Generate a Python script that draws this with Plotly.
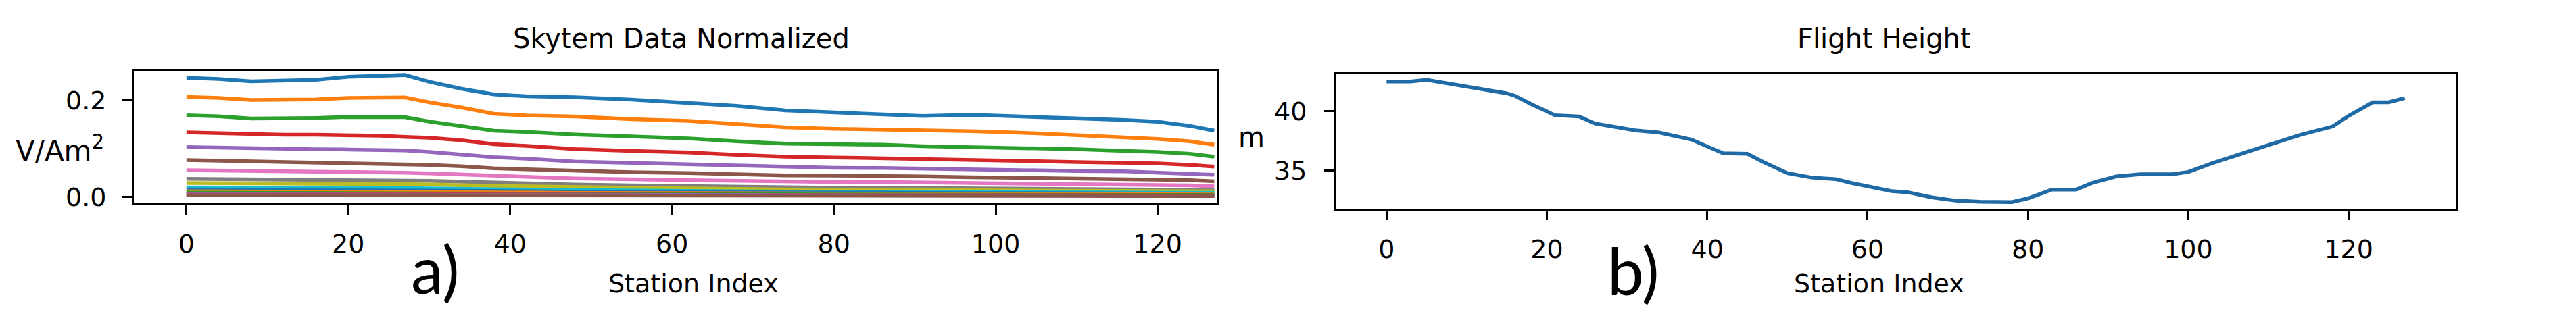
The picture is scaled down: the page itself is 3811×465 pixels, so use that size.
import plotly.graph_objects as go

W, H = 3811, 465

# ---- Skytem normalized data (V/Am^2) ----
st_top = [0, 4, 8, 12, 16, 20, 24, 27, 30, 34, 38, 42, 48, 55, 62, 68, 74, 80, 86, 91, 97, 103, 110, 116, 120, 124, 127]

gate_01 = [0.2466, 0.2443, 0.2395, 0.2405, 0.2425, 0.2488, 0.2515, 0.2525, 0.2385, 0.2240, 0.2125, 0.2085, 0.2063, 0.2015,
           0.1945, 0.1885, 0.1790, 0.1745, 0.1715, 0.1675, 0.1700, 0.1670, 0.1620, 0.1590, 0.1557, 0.1470, 0.1370]
gate_02 = [0.2070, 0.2050, 0.2010, 0.2012, 0.2020, 0.2050, 0.2065, 0.2060, 0.1960, 0.1850, 0.1720, 0.1685, 0.1665, 0.1610,
           0.1575, 0.1505, 0.1440, 0.1410, 0.1395, 0.1370, 0.1360, 0.1330, 0.1280, 0.1230, 0.1200, 0.1150, 0.1080]
gate_03 = [0.1690, 0.1670, 0.1623, 0.1625, 0.1635, 0.1655, 0.1655, 0.1650, 0.1560, 0.1470, 0.1370, 0.1345, 0.1290, 0.1250,
           0.1210, 0.1150, 0.1100, 0.1090, 0.1080, 0.1050, 0.1035, 0.1015, 0.0985, 0.0950, 0.0930, 0.0890, 0.0830]
gate_04 = [0.1335, 0.1315, 0.1295, 0.1288, 0.1285, 0.1282, 0.1265, 0.1240, 0.1225, 0.1170, 0.1090, 0.1055, 0.0990, 0.0950,
           0.0920, 0.0870, 0.0830, 0.0815, 0.0800, 0.0775, 0.0760, 0.0745, 0.0720, 0.0710, 0.0690, 0.0660, 0.0625]
gate_05 = [0.1030, 0.1015, 0.1000, 0.0990, 0.0986, 0.0980, 0.0972, 0.0960, 0.0930, 0.0880, 0.0820, 0.0790, 0.0730, 0.0700,
           0.0670, 0.0640, 0.0615, 0.0600, 0.0595, 0.0580, 0.0565, 0.0550, 0.0535, 0.0525, 0.0505, 0.0485, 0.0455]
gate_06 = [0.0760, 0.0748, 0.0735, 0.0725, 0.0715, 0.0705, 0.0695, 0.0680, 0.0660, 0.0630, 0.0590, 0.0570, 0.0540, 0.0510,
           0.0490, 0.0465, 0.0442, 0.0440, 0.0438, 0.0420, 0.0405, 0.0395, 0.0385, 0.0375, 0.0360, 0.0345, 0.0320]
gate_07 = [0.0550, 0.0545, 0.0538, 0.0532, 0.0525, 0.0518, 0.0510, 0.0500, 0.0485, 0.0460, 0.0430, 0.0410, 0.0378, 0.0360,
           0.0345, 0.0325, 0.0306, 0.0305, 0.0305, 0.0295, 0.0285, 0.0278, 0.0270, 0.0260, 0.0250, 0.0235, 0.0215]
gate_08 = [0.0372, 0.0368, 0.0364, 0.0360, 0.0356, 0.0352, 0.0346, 0.0340, 0.0330, 0.0312, 0.0290, 0.0275, 0.0252, 0.0235,
           0.0222, 0.0205, 0.0190, 0.0188, 0.0187, 0.0182, 0.0177, 0.0172, 0.0168, 0.0163, 0.0158, 0.0150, 0.0140]

# late gates, packed near zero
st_low = [0, 16, 27, 38, 48, 62, 74, 97, 116, 127]
gate_09 = [0.0283, 0.0272, 0.0262, 0.0225, 0.0195, 0.0172, 0.0150, 0.0140, 0.0128, 0.0112]
gate_10 = [0.0195, 0.0188, 0.0181, 0.0156, 0.0135, 0.0120, 0.0105, 0.0098, 0.0090, 0.0080]
gate_11 = [0.0150, 0.0145, 0.0139, 0.0120, 0.0104, 0.0092, 0.0081, 0.0075, 0.0069, 0.0062]
gate_12 = [0.0112, 0.0108, 0.0104, 0.0090, 0.0078, 0.0069, 0.0061, 0.0057, 0.0052, 0.0047]
gate_13 = [0.0085, 0.0082, 0.0079, 0.0068, 0.0059, 0.0052, 0.0046, 0.0043, 0.0039, 0.0035]
gate_14 = [0.0064, 0.0062, 0.0059, 0.0051, 0.0044, 0.0039, 0.0035, 0.0032, 0.0029, 0.0026]
gate_15 = [0.0048, 0.0046, 0.0044, 0.0038, 0.0033, 0.0029, 0.0026, 0.0024, 0.0022, 0.0020]
gate_16 = [0.0034, 0.0033, 0.0032, 0.0027, 0.0024, 0.0021, 0.0019, 0.0017, 0.0016, 0.0014]

# ---- flight height (m) ----
st_fh = [0, 3, 5, 8, 11, 13, 15, 16, 18, 21, 23, 24, 26, 29, 31, 34, 36, 38, 42, 45, 47, 50, 53, 56, 58, 61, 63, 65,
         68, 71, 74, 78, 80, 83, 86, 88, 91, 94, 98, 100, 103, 108, 114, 118, 120, 123, 125, 127]
height = [42.5, 42.5, 42.63, 42.3, 41.98, 41.7, 41.5, 41.3, 40.6, 39.65, 39.6, 39.55, 38.95, 38.56, 38.37, 38.19, 37.9,
          37.6, 36.43, 36.39, 35.7, 34.76, 34.39, 34.26, 33.93, 33.47, 33.24, 33.15, 32.72, 32.44, 32.35, 32.32, 32.63,
          33.37, 33.37, 33.93, 34.48, 34.67, 34.67, 34.86, 35.6, 36.7, 38.0, 38.7, 39.6, 40.74, 40.74, 41.1]

x_ticks = [0, 20, 40, 60, 80, 100, 120]

tab10 = ["#1f77b4", "#ff7f0e", "#2ca02c", "#d62728", "#9467bd",
         "#8c564b", "#e377c2", "#7f7f7f", "#bcbd22", "#17becf"]

gates = [(st_top, g) for g in (gate_01, gate_02, gate_03, gate_04, gate_05, gate_06, gate_07, gate_08)]
gates += [(st_low, g) for g in (gate_09, gate_10, gate_11, gate_12, gate_13, gate_14, gate_15, gate_16)]

fig = go.Figure()
for i, (xs, ys) in enumerate(gates):
    fig.add_trace(go.Scatter(x=xs, y=ys, mode="lines", xaxis="x", yaxis="y",
                             line=dict(color=tab10[i % 10], width=5.5), showlegend=False))

fig.add_trace(go.Scatter(x=st_fh, y=height, mode="lines", xaxis="x2", yaxis="y2",
                         line=dict(color="#1f6aa5", width=5.5), showlegend=False))

FONT = "DejaVu Sans"


def px_x(p):
    return p / W


def px_y(p):
    return 1 - p / H


axis_common = dict(
    showline=True, linecolor="black", linewidth=3, mirror=True,
    ticks="outside", ticklen=14, tickwidth=3, tickcolor="black",
    showgrid=False, zeroline=False,
    tickfont=dict(family=FONT, size=38, color="black"),
)

fig.update_layout(
    width=W, height=H,
    margin=dict(l=0, r=0, t=0, b=0),
    paper_bgcolor="white", plot_bgcolor="white",
    xaxis=dict(domain=[px_x(190), px_x(1792)], range=[-6.5, 127.3], tickvals=x_ticks,
               anchor="y", ticklabelstandoff=10, **axis_common),
    yaxis=dict(domain=[px_y(300.7), px_y(100)], range=[-0.0135, 0.2605], tickvals=[0.0, 0.2],
               ticktext=["0.0", "0.2"], anchor="x", ticklabelstandoff=16, **axis_common),
    xaxis2=dict(domain=[px_x(1968), px_x(3625)], range=[-6.35, 133.35], tickvals=x_ticks,
                anchor="y2", ticklabelstandoff=10, **axis_common),
    yaxis2=dict(domain=[px_y(309), px_y(105)], range=[31.76, 43.09], tickvals=[35, 40],
                anchor="x2", ticklabelstandoff=18, **axis_common),
)

labels = [
    ("Skytem Data Normalized", 1000, 50, 40, FONT),
    ("Flight Height", 2779, 50, 40, FONT),
    ("Station Index", 1018, 423, 38, FONT),
    ("Station Index", 2772, 423, 38, FONT),
    ("V/Am<sup>2</sup>", 80, 218, 42, FONT),
    ("m", 1843, 200, 40, FONT),
    ("a)", 636, 400, 96, "Lato"),
    ("b)", 2408, 402, 96, "Lato"),
]
for text, x, y, size, fam in labels:
    fig.add_annotation(text=text, x=px_x(x), y=px_y(y), xref="paper", yref="paper",
                       xanchor="center", yanchor="middle", showarrow=False,
                       font=dict(family=fam, size=size, color="black"))

fig.write_html("out.html")
